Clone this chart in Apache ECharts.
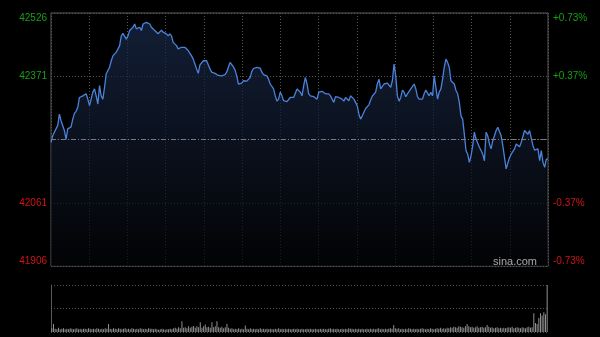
<!DOCTYPE html>
<html>
<head>
<meta charset="utf-8">
<style>html,body{margin:0;padding:0;background:#000;}#c{width:600px;height:337px;}</style>
<script src="https://cdn.jsdelivr.net/npm/echarts@6/dist/echarts.min.js"></script>
</head>
<body>
<div id="c"></div>
<script>
var prevClose = 42216;
var leftTicks = [41906, 42061, 42216, 42371, 42526];
var rightTicks = ['-0.73%', '-0.37%', '', '+0.37%', '+0.73%'];

var prices = [
42209,42225,42225,42242,42250,42278,42262,42258,42238,42217,
42242,42246,42247,42266,42280,42285,42295,42319,42315,42323,
42323,42328,42315,42299,42315,42332,42340,42323,42303,42348,
42323,42315,42344,42377,42381,42393,42409,42421,42421,42430,
42432,42446,42470,42476,42473,42462,42470,42483,42487,42491,
42499,42487,42487,42491,42483,42499,42495,42503,42507,42499,
42491,42487,42483,42481,42475,42479,42484,42479,42479,42475,
42470,42475,42470,42454,
42452,42446,42438,42438,42442,42440,42442,42438,42434,42430,
42421,42413,42401,42389,42378,42399,42399,42409,42413,42409,
42407,42389,42381,42377,42378,42377,42373,42370,42372,42372,
42375,42381,42393,42405,42403,42394,42386,42372,42352,42348,
42354,42360,42360,42359,42360,42368,42383,42390,42391,42393,
42393,42391,42381,42375,42376,42372,42364,42352,42350,42340,
42323,42310,42315,42332,42323,42311,42310,42309,42309,42319,
42321,42319,42317,42340,
42340,42332,42323,42348,42368,42352,42328,42323,42323,42321,
42319,42315,42332,42328,42334,42332,42328,42328,42328,42323,
42323,42307,42321,42321,42319,42321,42315,42310,42319,42319,
42311,42323,42319,42315,42311,42299,42278,42266,42274,42278,
42292,42296,42301,42313,42322,42323,42332,42352,42364,42340,
42344,42352,42352,42354,42354,42344,42360,42401,42372,42323,
42310,42319,42337,42332,42321,42328,42332,42340,42344,42352,
42340,42321,42315,42315,
42315,42328,42337,42336,42323,42332,42323,42372,42375,42315,
42332,42340,42364,42393,42413,42405,42393,42360,42364,42352,
42336,42328,42307,42274,42266,42229,42189,42180,42160,42176,
42201,42234,42217,42213,42197,42189,42180,42164,42234,42225,
42205,42193,42213,42217,42238,42246,42242,42225,42201,42172,
42144,42140,42172,42180,42176,42193,42205,42201,42198,42209,
42205,42238,42234,42229,42238,42242,42201,42190,42189,42193,
42164,42189,42160,42148,42168,42168
];

var volumes = [
8,17,7,6,9,6,7,8,6,7,
6,8,7,6,7,8,6,7,6,7,
7,6,8,7,6,7,6,8,7,6,
7,6,8,7,17,7,6,8,7,6,
8,7,6,7,8,6,7,6,8,7,
6,7,6,8,7,6,7,6,8,7,
7,6,7,6,5,6,7,6,5,6,
6,7,6,8,9,7,10,8,23,9,
10,8,12,9,11,13,9,12,10,21,
9,12,16,10,11,9,21,10,12,23,
10,9,11,8,10,17,9,7,8,6,
7,6,8,6,7,6,14,7,6,8,
6,7,6,7,6,8,6,7,6,7,
6,7,6,6,7,6,8,6,7,6,
7,6,7,6,6,7,6,7,6,6,
7,6,6,7,6,7,6,6,7,6,
6,7,6,7,6,6,7,8,6,7,
6,7,6,6,7,6,7,6,8,7,
7,6,7,6,7,6,7,6,6,7,
6,7,6,7,6,7,8,6,7,6,
7,6,7,8,7,15,8,7,8,6,
7,6,7,6,8,7,6,7,6,7,
6,7,8,7,6,7,6,8,7,6,
7,8,7,9,7,8,7,9,8,10,
9,11,10,9,12,11,10,9,12,17,
12,10,11,9,10,12,9,10,11,9,
10,15,11,9,10,8,9,10,8,9,
8,9,8,9,10,9,11,8,9,10,
9,8,10,9,8,10,11,9,10,40,
19,17,30,40,35,42,38,100
];

var categories = prices.map(function (_, i) { return String(i); });
var offsets = prices.map(function (v) { return v - prevClose; });

var step = leftTicks[1] - leftTicks[0];
var GREEN = '#16a016', RED = '#d01414';

function tickIndex(v) { return Math.round(v / step) + 2; }
function colorFor(v) { return v > 0 ? GREEN : (v < 0 ? RED : '#888'); }

var chart = echarts.init(document.getElementById('c'), null, { renderer: 'canvas' });
var dotted = { color: '#555', type: [1, 2], width: 1 };
var FONT = 'Arial, Liberation Sans, sans-serif';

chart.setOption({
  backgroundColor: '#000',
  animation: false,
  grid: [
    { left: 51, right: 52, top: 13, bottom: 71, show: true, borderColor: '#5a5a5a', borderWidth: 1, backgroundColor: 'transparent' },
    { left: 51, right: 52, top: 285, bottom: 5 }
  ],
  xAxis: [
    { type: 'category', gridIndex: 0, data: categories, boundaryGap: false, show: false },
    { type: 'category', gridIndex: 1, data: categories, boundaryGap: true, show: false },
    { type: 'value', gridIndex: 0, min: 0, max: 13, interval: 1,
      axisLine: { show: false }, axisTick: { show: false }, axisLabel: { show: false },
      splitLine: { show: true, lineStyle: dotted } }
  ],
  yAxis: [
    { type: 'value', gridIndex: 0, position: 'left', min: -2 * step, max: 2 * step, interval: step,
      axisLine: { show: false }, axisTick: { show: false },
      splitLine: { show: true, lineStyle: dotted },
      axisLabel: {
        margin: 4, fontSize: 10, fontFamily: FONT,
        verticalAlignMaxLabel: 'top', verticalAlignMinLabel: 'bottom',
        formatter: function (v) { var i = tickIndex(v); return v === 0 ? '' : String(leftTicks[i]); },
        color: function (v) { return colorFor(Number(v)); }
      } },
    { type: 'value', gridIndex: 0, position: 'right', min: -2 * step, max: 2 * step, interval: step,
      axisLine: { show: false }, axisTick: { show: false }, splitLine: { show: false },
      axisLabel: {
        margin: 5, fontSize: 10, fontFamily: FONT,
        verticalAlignMaxLabel: 'top', verticalAlignMinLabel: 'bottom',
        formatter: function (v) { return rightTicks[tickIndex(v)]; },
        color: function (v) { return colorFor(Number(v)); }
      } },
    { type: 'value', gridIndex: 1, min: 0, max: 100, interval: 50,
      axisLine: { show: true, lineStyle: { color: '#5a5a5a' } }, axisTick: { show: false }, axisLabel: { show: false },
      splitLine: { show: true, lineStyle: dotted } }
  ],
  series: [
    {
      type: 'line', xAxisIndex: 0, yAxisIndex: 0, data: offsets,
      showSymbol: false, symbol: 'none',
      lineStyle: { color: '#4b82da', width: 1.3 },
      areaStyle: {
        origin: 'start',
        color: new echarts.graphic.LinearGradient(0, 0, 0, 1, [
          { offset: 0, color: '#1b2b4c' },
          { offset: 1, color: '#030406' }
        ])
      },
      markLine: {
        silent: true, symbol: 'none', label: { show: false },
        lineStyle: { color: '#7a7a7a', type: [5, 2, 1, 2], width: 1 },
        data: [{ yAxis: 0 }]
      },
      z: 3
    },
    {
      type: 'bar', xAxisIndex: 1, yAxisIndex: 2, data: volumes,
      barWidth: 1, itemStyle: { color: '#909090' }
    }
  ],
  graphic: [
    { type: 'text', right: 63, top: 256, style: { text: 'sina.com', fill: '#a8a8a8', font: '11px ' + FONT }, z: 10 }
  ]
});
</script>
</body>
</html>
